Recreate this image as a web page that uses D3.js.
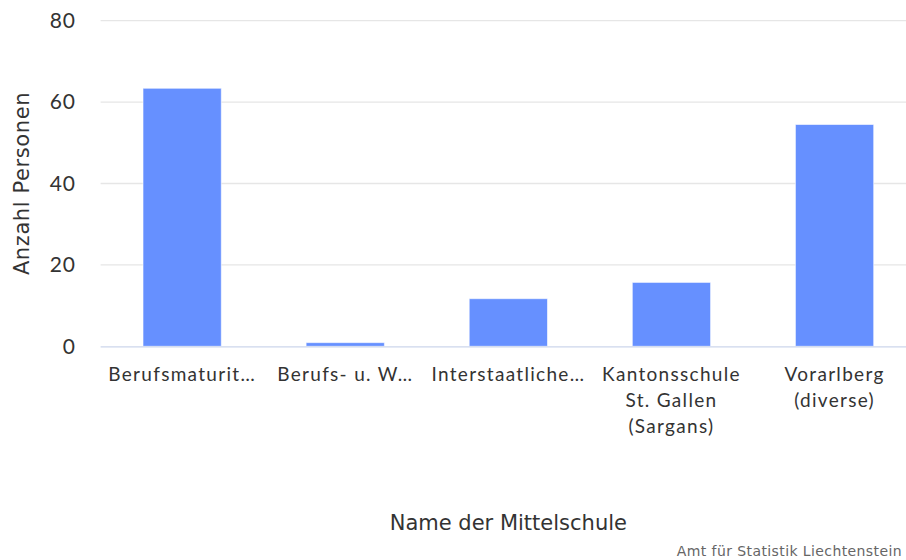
<!DOCTYPE html>
<html>
<head>
<meta charset="utf-8">
<script src="https://cdn.jsdelivr.net/npm/d3@7"></script>
<style>
  body { margin: 0; background: #fff; }
  svg { display: block; overflow: hidden; }
  .tick-label { font-family: Lato, "Noto Sans", sans-serif; fill: #333; }
</style>
</head>
<body>
<div id="chart"></div>
<script>
// data
let schools = [
    ["Berufsmaturit\u2026"],
    ["Berufs- u. W\u2026"],
    ["Interstaatliche\u2026"],
    ["Kantonsschule", "St. Gallen", "(Sargans)"],
    ["Vorarlberg", "(diverse)"]
];
let persons = [63.4, 0.9, 11.7, 15.7, 54.5];
let yTicks = [0, 20, 40, 60, 80];

let width = 906, height = 560;
let margin = {top: 20.7, left: 100.6};
let plotW = 815.5;   // plot runs past the right edge, it is cropped
let plotBottom = 346.3;

let svg = d3.select("#chart")
    .append("svg")
    .attr("width", width)
    .attr("height", height);

let names = schools.map(d => d.join(" "));

let xScale = d3.scaleBand()
    .domain(names)
    .range([margin.left, margin.left + plotW])
    .paddingInner(0.52)
    .paddingOuter(0.26);

let yScale = d3.scaleLinear()
    .domain([0, 80])
    .range([plotBottom, margin.top]);

// grid lines
svg.append("g")
    .selectAll("line")
    .data(yTicks.filter(d => d > 0))
    .enter()
    .append("line")
    .attr("x1", margin.left)
    .attr("x2", margin.left + plotW)
    .attr("y1", d => yScale(d))
    .attr("y2", d => yScale(d))
    .attr("stroke", "#e6e6e6")
    .attr("stroke-width", 1.3);

// y axis labels
let yAxis = d3.axisLeft(yScale)
    .tickValues(yTicks)
    .tickSize(0)
    .tickPadding(0);

let yg = svg.append("g")
    .attr("transform", `translate(76, 0)`)
    .call(yAxis);
yg.select(".domain").remove();
yg.selectAll("text")
    .attr("class", "tick-label")
    .style("font-size", "21px")
    .style("letter-spacing", "1px")
    .attr("fill", "#333");

// bars
svg.append("g")
    .selectAll("rect")
    .data(persons)
    .enter()
    .append("rect")
    .attr("x", (d, i) => xScale(names[i]))
    .attr("y", d => yScale(d))
    .attr("width", xScale.bandwidth())
    .attr("height", d => plotBottom - yScale(d))
    .attr("fill", "#6690ff")
    .attr("stroke", "#ffffff")
    .attr("stroke-opacity", 0.6)
    .attr("stroke-width", 1);

// baseline
svg.append("line")
    .attr("x1", margin.left)
    .attr("x2", margin.left + plotW)
    .attr("y1", plotBottom + 0.5)
    .attr("y2", plotBottom + 0.5)
    .attr("stroke", "#ccd6eb")
    .attr("stroke-width", 1.3);

// x axis labels
let xLabels = svg.append("g")
    .selectAll("text")
    .data(schools)
    .enter()
    .append("text")
    .attr("class", "tick-label")
    .attr("text-anchor", "middle")
    .style("font-size", "19px")
    .style("letter-spacing", "1.3px")
    .attr("transform", (d, i) => `translate(${xScale(names[i]) + xScale.bandwidth() / 2}, 381)`);

xLabels.selectAll("tspan")
    .data(d => d)
    .enter()
    .append("tspan")
    .attr("x", 0)
    .attr("y", (d, i) => i * 26)
    .text(d => d);

// axis titles
svg.append("text")
    .attr("x", margin.left + plotW / 2)
    .attr("y", 530)
    .attr("text-anchor", "middle")
    .style("font-family", "'DejaVu Sans', sans-serif")
    .style("font-size", "21px")
    .attr("fill", "#333")
    .text("Name der Mittelschule");

svg.append("text")
    .attr("transform", `translate(29, ${(margin.top + plotBottom) / 2}) rotate(-90)`)
    .attr("text-anchor", "middle")
    .style("font-family", "'DejaVu Sans', sans-serif")
    .style("font-size", "21px")
    .style("letter-spacing", "0.6px")
    .attr("fill", "#333")
    .text("Anzahl Personen");

// credits
svg.append("text")
    .attr("x", 902)
    .attr("y", 556)
    .attr("text-anchor", "end")
    .style("font-family", "'DejaVu Sans', sans-serif")
    .style("font-size", "14px")
    .style("letter-spacing", "0.4px")
    .attr("fill", "#666")
    .text("Amt f\u00fcr Statistik Liechtenstein");
</script>
</body>
</html>
